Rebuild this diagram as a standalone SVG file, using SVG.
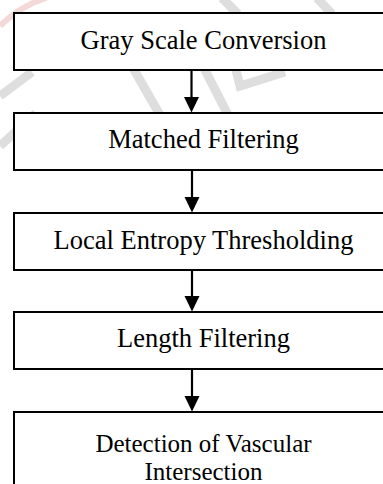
<svg xmlns="http://www.w3.org/2000/svg" width="383" height="484" viewBox="0 0 383 484">
  <style>
    .box { fill: #ffffff; stroke: #000000; stroke-width: 2; }
    .lbl { font-family: "Liberation Serif", "Times New Roman", serif; font-size: 26.5px; fill: #000000; text-anchor: middle; }
    .lbl2 { font-family: "Liberation Serif", "Times New Roman", serif; font-size: 25px; fill: #000000; text-anchor: middle; }
    .wm { fill: none; stroke: #dedede; stroke-width: 9; }
    .wmr { fill: none; stroke: #f4d9d9; stroke-width: 6; }
    .conn { stroke: #000000; stroke-width: 2.2; }
    .head { fill: #000000; }
  </style>
  <rect x="0" y="0" width="383" height="484" fill="#ffffff"/>
  <g id="watermark">
    <path class="wmr" d="M0,26 Q20,6 46,-2"/>
    <path class="wm" d="M0,96 L32,72"/>
    <path class="wm" d="M0,146 L36,113"/>
    <path class="wm" d="M133,68 L160,115"/>
    <path class="wm" d="M204,68 L228,115"/>
    <path class="wm" d="M236,70 L240,86 L285,72"/>
    <path class="wm" d="M222,-2 L238,14"/>
    <path class="wm" d="M317,-2 L332,14"/>
  </g>
  <g id="connectors">
    <line class="conn" x1="191.5" y1="70" x2="191.5" y2="98"/>
    <polygon class="head" points="184,97 199,97 191.5,112.5"/>
    <line class="conn" x1="192" y1="170" x2="192" y2="198"/>
    <polygon class="head" points="184.5,197 199.5,197 192,212.5"/>
    <line class="conn" x1="192" y1="270" x2="192" y2="297"/>
    <polygon class="head" points="184.5,296 199.5,296 192,311.5"/>
    <line class="conn" x1="192" y1="369" x2="192" y2="397"/>
    <polygon class="head" points="184.5,396 199.5,396 192,411.5"/>
  </g>
  <g id="node1">
    <rect class="box" x="14" y="13" width="380" height="57"/>
    <text class="lbl" x="203.5" y="49.3">Gray Scale Conversion</text>
  </g>
  <g id="node2">
    <rect class="box" x="14" y="113" width="380" height="57"/>
    <text class="lbl" x="203.5" y="148.3">Matched Filtering</text>
  </g>
  <g id="node3">
    <rect class="box" x="14" y="213" width="380" height="57"/>
    <text class="lbl" x="203.5" y="249">Local Entropy Thresholding</text>
  </g>
  <g id="node4">
    <rect class="box" x="14" y="312" width="380" height="57"/>
    <text class="lbl" x="203.5" y="347.3">Length Filtering</text>
  </g>
  <g id="node5">
    <rect class="box" x="14" y="412" width="380" height="80"/>
    <text class="lbl2" x="203.5" y="452">Detection of Vascular</text>
    <text class="lbl2" x="203.5" y="479.5">Intersection</text>
  </g>
</svg>
